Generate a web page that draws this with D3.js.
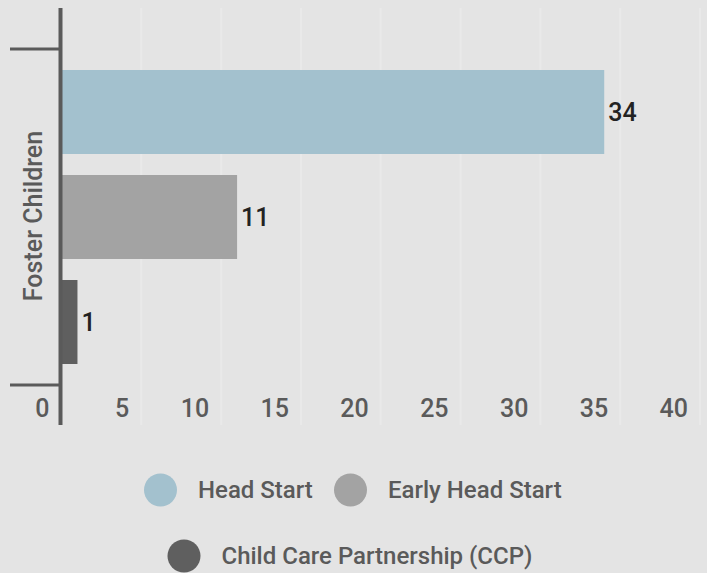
<!DOCTYPE html>
<html><head><meta charset="utf-8">
<script src="https://cdn.jsdelivr.net/npm/d3@7"></script>
<style>html,body{margin:0;padding:0;background:#e4e4e4;}svg{display:block;font-family:Roboto,sans-serif;font-weight:500;}</style>
</head><body>
<svg id="c" width="707" height="573"></svg>
<script>
const category = "Foster Children";
const seriesNames = ["Head Start", "Early Head Start", "Child Care Partnership (CCP)"];
const seriesValues = [34, 11, 1];
const seriesColors = ["#a3c1ce", "#a3a3a3", "#5f5f5f"];
const tickValues = [0, 5, 10, 15, 20, 25, 30, 35, 40];

const svg = d3.select("#c");
svg.append("rect").attr("width",707).attr("height",573).attr("fill","#e4e4e4");

const x = d3.scaleLinear().domain([0, 40]).range([61.5, 700]);
const y = d3.scaleBand().domain(seriesNames).range([49, 385]).paddingInner(0.2).paddingOuter(0.2);

// gridlines
svg.append("g").selectAll("line").data(tickValues.slice(1)).join("line")
  .attr("x1", d => x(d)).attr("x2", d => x(d)).attr("y1", 8).attr("y2", 425)
  .attr("stroke", "#e9e9e9").attr("stroke-width", 2);

// tick labels
svg.append("g").selectAll("text").data(tickValues).join("text")
  .attr("x", d => x(d) - 12).attr("y", 417).attr("text-anchor", "end")
  .attr("fill", "#5a5a5a").attr("font-size", 25).text(d => d);

// bars
svg.append("g").selectAll("rect").data(seriesValues).join("rect")
  .attr("x", x(0)).attr("y", (d, i) => y(seriesNames[i]))
  .attr("width", d => x(d) - x(0)).attr("height", y.bandwidth())
  .attr("fill", (d, i) => seriesColors[i]);

// value labels
svg.append("g").selectAll("text").data(seriesValues).join("text")
  .attr("x", d => x(d) + 4).attr("y", (d, i) => y(seriesNames[i]) + y.bandwidth() / 2)
  .attr("dy", "0.36em").attr("fill", "#222").attr("font-size", 25).text(d => d);

// axis line and category ticks
svg.append("line").attr("x1", 60.5).attr("x2", 60.5).attr("y1", 8).attr("y2", 425)
  .attr("stroke", "#5a5a5a").attr("stroke-width", 4);
svg.append("g").selectAll("line").data([49, 385]).join("line")
  .attr("x1", 10).attr("x2", 59).attr("y1", d => d).attr("y2", d => d)
  .attr("stroke", "#5a5a5a").attr("stroke-width", 3);

// category label
svg.append("text").attr("transform", "translate(42," + 216 + ") rotate(-90)")
  .attr("text-anchor", "middle").attr("fill", "#5a5a5a").attr("font-size", 25).text(category);

// legend
const legendPos = [[160.5, 490], [350.5, 490], [184, 556]];
const lg = svg.append("g").selectAll("g").data(seriesNames).join("g")
  .attr("transform", (d, i) => `translate(${legendPos[i][0]},${legendPos[i][1]})`);
lg.append("circle").attr("r", 16.5).attr("fill", (d, i) => seriesColors[i]);
lg.append("text").attr("x", 37.5).attr("y", 8).attr("fill", "#5a5a5a").attr("font-size", 24).text(d => d);
</script>
</body></html>
